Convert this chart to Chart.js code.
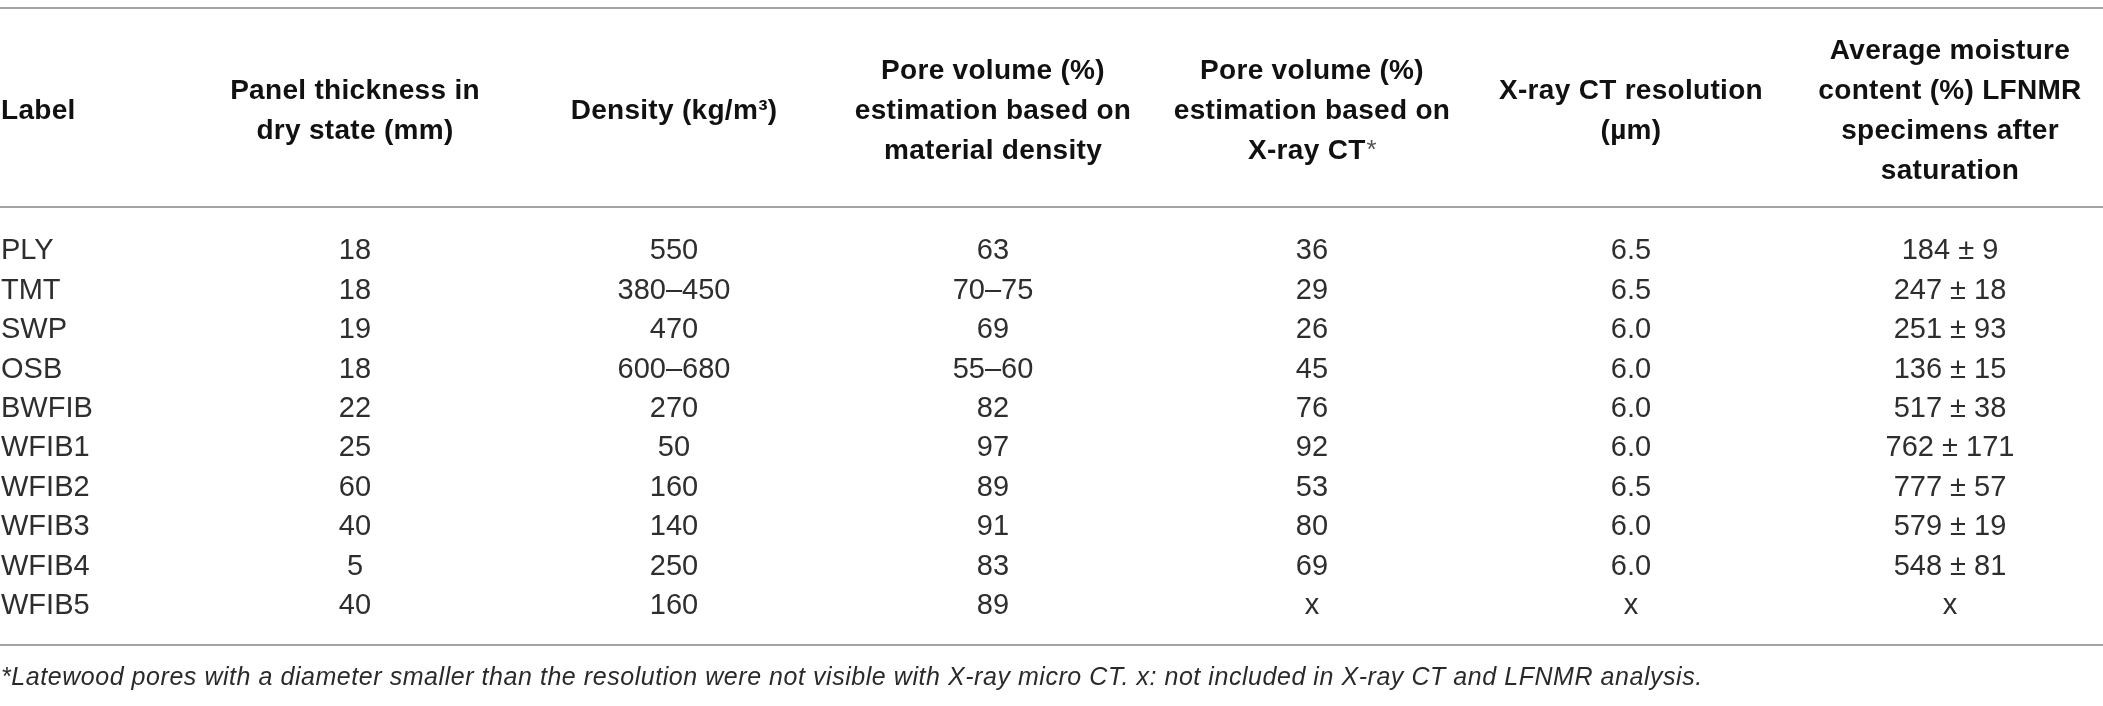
<!DOCTYPE html>
<html>
<head>
<meta charset="utf-8">
<script src="https://cdn.jsdelivr.net/npm/chart.js@4.4.1/dist/chart.umd.min.js"></script>
<style>
html, body { margin: 0; padding: 0; background: #ffffff; overflow: hidden; }
#wrap { width: 2103px; height: 706px; }
</style>
</head>
<body>
<div id="wrap"><canvas id="c" width="2103" height="706"></canvas></div>
<script>
// ---------- table content ----------
const headers = [
  ["Label"],
  ["Panel thickness in", "dry state (mm)"],
  ["Density (kg/m³)"],
  ["Pore volume (%)", "estimation based on", "material density"],
  ["Pore volume (%)", "estimation based on", "X-ray CT*"],
  ["X-ray CT resolution", "(µm)"],
  ["Average moisture", "content (%) LFNMR", "specimens after", "saturation"]
];
const labels      = ["PLY", "TMT", "SWP", "OSB", "BWFIB", "WFIB1", "WFIB2", "WFIB3", "WFIB4", "WFIB5"];
const thickness   = ["18", "18", "19", "18", "22", "25", "60", "40", "5", "40"];
const density     = ["550", "380–450", "470", "600–680", "270", "50", "160", "140", "250", "160"];
const poreDensity = ["63", "70–75", "69", "55–60", "82", "97", "89", "91", "83", "89"];
const poreCT      = ["36", "29", "26", "45", "76", "92", "53", "80", "69", "x"];
const ctRes       = ["6.5", "6.5", "6.0", "6.0", "6.0", "6.0", "6.5", "6.0", "6.0", "x"];
const moisture    = ["184 ± 9", "247 ± 18", "251 ± 93", "136 ± 15", "517 ± 38", "762 ± 171", "777 ± 57", "579 ± 19", "548 ± 81", "x"];
const footnote = "*Latewood pores with a diameter smaller than the resolution were not visible with X-ray micro CT. x: not included in X-ray CT and LFNMR analysis.";

const columns = [labels, thickness, density, poreDensity, poreCT, ctRes, moisture];

// ---------- scale geometry (in scale units) ----------
const ROW_PX = 39.4;
const X_MIN = 1 - 355 / 319;
const X_MAX = 1 + (2103 - 355) / 319;
const Y_MIN = -249 / ROW_PX;
const Y_MAX = Y_MIN + 706 / ROW_PX;
const HEADER_ROW = (108.5 - 249) / ROW_PX;
const RULE_ROWS = [(8 - 249) / ROW_PX, (207 - 249) / ROW_PX, (645 - 249) / ROW_PX];
const FOOT_ROW = (676.5 - 249) / ROW_PX;

const BODY_FS = 29, HEAD_FS = 28, FOOT_FS = 25, HEAD_LH = 40;
const FONT = '"Liberation Sans", Arial, Helvetica, sans-serif';

// build cell points: x = column index, y = row index
const cells = [];
columns.forEach((col, c) => {
  col.forEach((t, r) => cells.push({ x: c === 0 ? X_MIN : c, y: r, t: t, c: c }));
});

const tablePlugin = {
  id: 'tableText',
  afterDatasetsDraw(chart) {
    const ctx = chart.ctx;
    const xs = chart.scales.x, ys = chart.scales.y;
    ctx.save();
    // horizontal rules
    ctx.strokeStyle = '#a4a4a4';
    ctx.lineWidth = 2;
    RULE_ROWS.forEach(v => {
      const py = Math.round(ys.getPixelForValue(v));
      ctx.beginPath();
      ctx.moveTo(xs.left, py);
      ctx.lineTo(xs.right, py);
      ctx.stroke();
    });

    // header
    const hc = ys.getPixelForValue(HEADER_ROW);
    ctx.fillStyle = '#111111';
    ctx.textBaseline = 'alphabetic';
    headers.forEach((lines, c) => {
      const px = xs.getPixelForValue(c === 0 ? X_MIN : c);
      lines.forEach((line, k) => {
        const by = hc + 0.358 * HEAD_FS + (k - (lines.length - 1) / 2) * HEAD_LH;
        ctx.font = 'bold ' + HEAD_FS + 'px ' + FONT;
        ctx.letterSpacing = '0.3px';
        let main = line, star = '';
        if (line.endsWith('*')) { main = line.slice(0, -1); star = '*'; }
        const wMain = ctx.measureText(main).width;
        ctx.font = 'normal ' + (HEAD_FS - 2) + 'px ' + FONT;
        const wStar = star ? ctx.measureText(star).width : 0;
        const total = wMain + wStar;
        const left = c === 0 ? px + 1 : px - total / 2;
        ctx.textAlign = 'left';
        ctx.font = 'bold ' + HEAD_FS + 'px ' + FONT;
        ctx.fillText(main, left, by);
        if (star) {
          ctx.font = 'normal ' + (HEAD_FS - 2) + 'px ' + FONT;
          ctx.fillStyle = '#555';
          ctx.fillText(star, left + wMain + 1, by - 1);
          ctx.fillStyle = '#111111';
        }
      });
    });
    ctx.letterSpacing = '0px';

    // body cells positioned by the chart's own points
    const meta = chart.getDatasetMeta(0);
    ctx.font = BODY_FS + 'px ' + FONT;
    ctx.fillStyle = '#2e2e2e';
    meta.data.forEach((pt, i) => {
      const d = chart.data.datasets[0].data[i];
      ctx.textAlign = d.c === 0 ? 'left' : 'center';
      ctx.fillText(d.t, d.c === 0 ? pt.x + 1 : pt.x, pt.y + 0.358 * BODY_FS);
    });

    // footnote
    ctx.font = 'italic ' + FOOT_FS + 'px ' + FONT;
    ctx.letterSpacing = '0.55px';
    ctx.fillStyle = '#2a2a2a';
    ctx.textAlign = 'left';
    ctx.fillText(footnote, xs.getPixelForValue(X_MIN) + 1, ys.getPixelForValue(FOOT_ROW) + 0.358 * FOOT_FS);
    ctx.letterSpacing = '0px';
    ctx.restore();
  }
};

new Chart(document.getElementById('c'), {
  type: 'scatter',
  data: {
    datasets: [{
      data: cells,
      pointRadius: 0,
      pointHoverRadius: 0,
      backgroundColor: 'rgba(0,0,0,0)',
      borderColor: 'rgba(0,0,0,0)',
      clip: false
    }]
  },
  options: {
    responsive: false,
    animation: false,
    events: [],
    layout: { padding: 0 },
    plugins: { legend: { display: false }, tooltip: { enabled: false }, title: { display: false } },
    scales: {
      x: { type: 'linear', display: false, min: X_MIN, max: X_MAX },
      y: { type: 'linear', display: false, min: Y_MIN, max: Y_MAX, reverse: true }
    }
  },
  plugins: [tablePlugin]
});
</script>
</body>
</html>
